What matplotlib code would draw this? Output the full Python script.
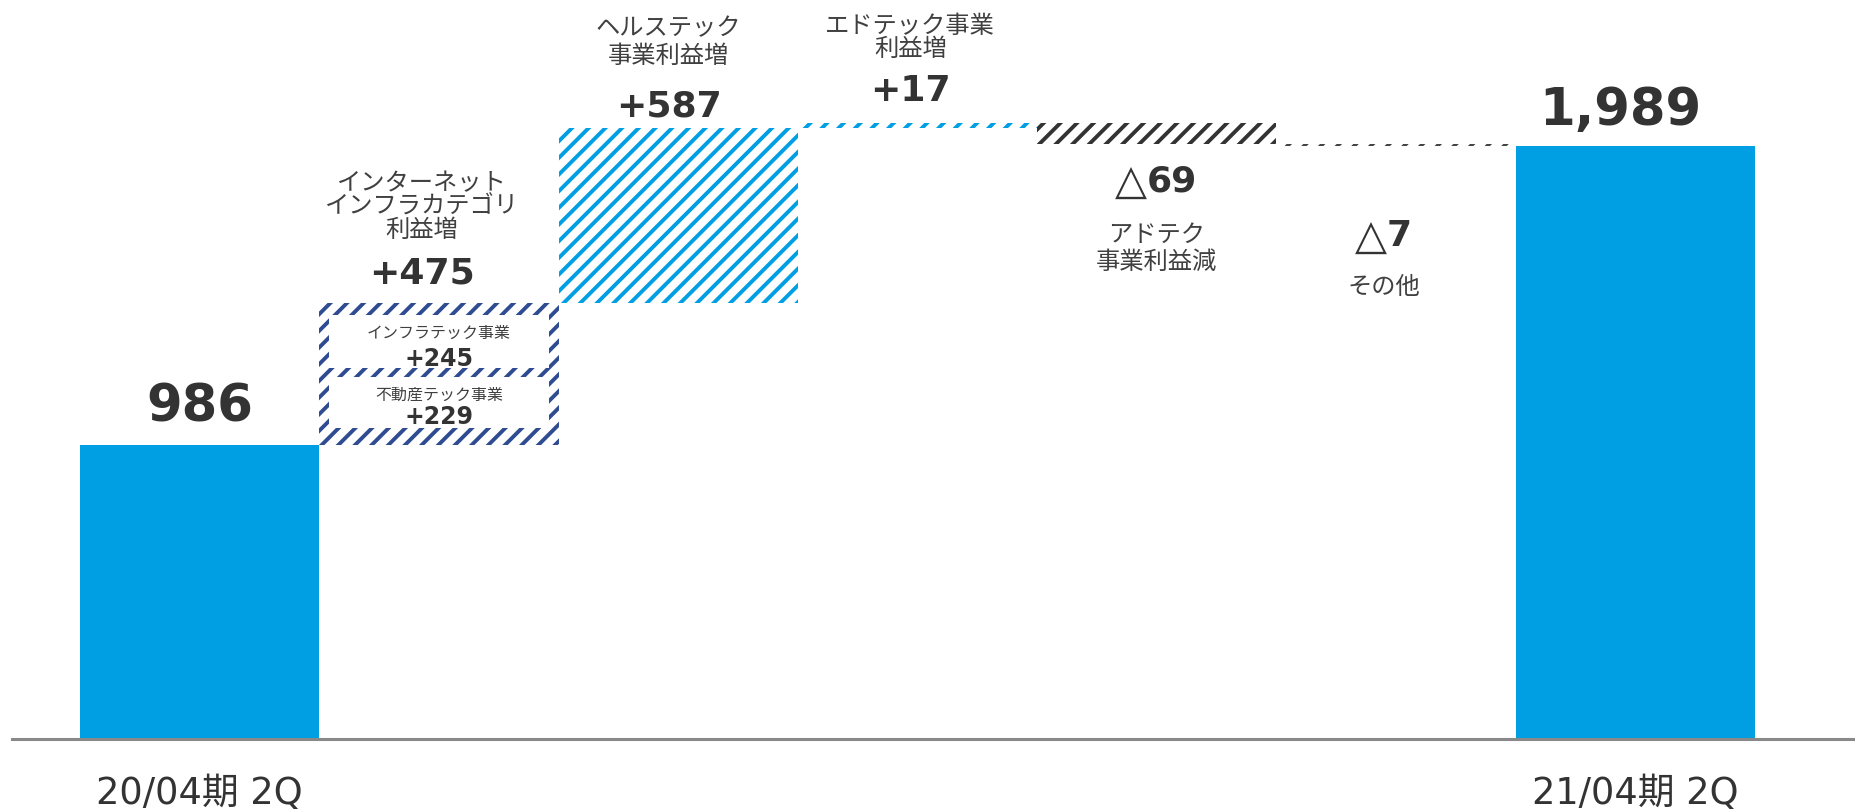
import matplotlib.pyplot as plt

plt.rcParams['font.family'] = ['DejaVu Sans', 'Noto Sans CJK JP']
plt.rcParams['hatch.linewidth'] = 2.8

# 営業利益の増減（百万円）
start_value = 986
end_value = 1989
period_labels = ['20/04期 2Q', '21/04期 2Q']
deltas = [475, 587, 17, -69, -7]
delta_titles = ['インターネット\nインフラカテゴリ\n利益増', 'ヘルステック\n事業利益増',
                'エドテック事業\n利益増', 'アドテク\n事業利益減', 'その他']
infra_parts = [229, 245]
infra_part_names = ['不動産テック事業', 'インフラテック事業']

BLUE = '#009FE3'
NAVY = '#2F4B91'
DARK = '#333333'
TEXT = '#333333'
LABEL = '#404040'
hatch_colors = [NAVY, BLUE, BLUE, DARK, '#444444']

fig = plt.figure(figsize=(18.56, 8.11), dpi=100)
ax = fig.add_axes([12 / 1856, 72 / 811, 1 - 12 / 1856, 739 / 811])

# 増減ブロックの位置
level = start_value
bottoms, heights = [], []
for d in deltas:
    bottoms.append(level if d > 0 else level + d)
    heights.append(abs(d))
    level += d
xs = list(range(1, len(deltas) + 1))
last = len(deltas) + 1

ax.bar([0, last], [start_value, end_value], width=1.0, color=BLUE, zorder=2)
ax.bar(xs, heights, bottom=bottoms, width=1.0, color='none',
       edgecolor=hatch_colors, linewidth=0, hatch='//', zorder=2)

# インフラ内訳の白抜き枠
pads = [(57, 0), (29, 39)]
part_bottom = start_value
for part, (pb, pt) in zip(infra_parts, pads):
    ax.bar(1, part - pb - pt, bottom=part_bottom + pb, width=0.92,
           color='white', zorder=3)
    part_bottom += part

part_name_y = [1154, 1362]
part_value_y = [1087, 1281]
for part, name, ny, vy in zip(infra_parts, infra_part_names, part_name_y, part_value_y):
    ax.text(1, ny, name, ha='center', va='center', fontsize=11.5, color=LABEL, zorder=4)
    ax.text(1, vy, f'+{part}', ha='center', va='center_baseline', fontsize=17,
            fontweight='bold', color=TEXT, zorder=4)

# 期首・期末の値
ax.text(0, 1130, f'{start_value:,}', ha='center', va='center_baseline',
        fontsize=37, fontweight='bold', color=TEXT)
ax.text(last - 0.065, 2123, f'{end_value:,}', ha='center', va='center_baseline',
        fontsize=37, fontweight='bold', color=TEXT)

# 増減ラベル
title_pos = [(-0.07, 1785, 0.98), (-0.04, 2337, 1.17), (-0.03, 2352, 0.98),
             (0.0, 1645, 1.17), (-0.05, 1516, 1.0)]
value_pos = [(-0.07, 1573), (-0.04, 2133), (-0.03, 2183), (-0.04, 1881), (-0.04, 1697)]
for x, d, title, (tdx, ty, ls), (vdx, vy) in zip(xs, deltas, delta_titles, title_pos, value_pos):
    ax.text(x + tdx, ty, title, ha='center', va='center', fontsize=17.5,
            color=LABEL, linespacing=ls)
    if d > 0:
        ax.text(x + vdx, vy, f'+{d}', ha='center', va='center_baseline',
                fontsize=26, fontweight='bold', color=TEXT)
    else:
        ax.text(x + vdx, vy, '△', ha='right', va='center_baseline',
                fontsize=30, color=TEXT)
        ax.text(x + vdx, vy, f'{-d}', ha='left', va='center_baseline',
                fontsize=26, fontweight='bold', color=TEXT)

ax.axhline(0, color='#898989', linewidth=2.2, zorder=5, clip_on=False)
ax.set_xlim(-0.784, 6.922)
ax.set_ylim(0, 2478)
ax.set_xticks([0, last], period_labels)
ax.tick_params(axis='x', length=0, pad=26, labelsize=26.5, labelcolor=TEXT)
ax.set_yticks([])
for s in ax.spines.values():
    s.set_visible(False)

fig.savefig('out.png', dpi=100)
